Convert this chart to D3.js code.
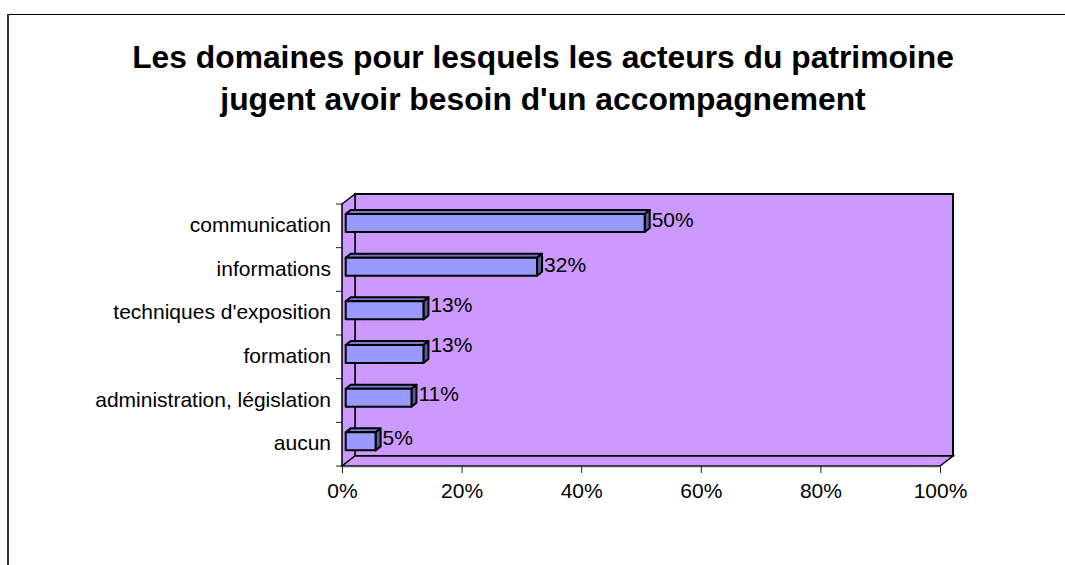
<!DOCTYPE html>
<html>
<head>
<meta charset="utf-8">
<script src="https://cdn.jsdelivr.net/npm/d3@7"></script>
<style>
  html, body { margin: 0; padding: 0; background: #fff; overflow: hidden; }
  text { font-family: "Liberation Sans", Arial, sans-serif; fill: #000; }
</style>
</head>
<body>
<div id="chart"></div>
<script>
// Chart data
const categories = ["communication", "informations", "techniques d'exposition", "formation", "administration, législation", "aucun"];
const values = [50, 32, 13, 13, 11, 5];
const xTicks = [0, 20, 40, 60, 80, 100];
const titleLines = ["Les domaines pour lesquels les acteurs du patrimoine", "jugent avoir besoin d'un accompagnement"];

// the labels do not sit at the same height on every bar in the original
const labelNudge = [-3, -2, -6, -9, -4, -4];

const width = 1065, height = 565;

const svg = d3.select("#chart")
  .append("svg")
  .attr("width", width)
  .attr("height", height)
  .style("display", "block");

// Frame of the chart area, cut by the picture on the right and bottom
svg.append("line")
  .attr("x1", 7).attr("x2", 1065)
  .attr("y1", 14.5).attr("y2", 14.5)
  .attr("stroke", "#000");
svg.append("line")
  .attr("x1", 8).attr("x2", 8)
  .attr("y1", 14).attr("y2", 565)
  .attr("stroke", "#333")
  .attr("stroke-width", 2);

// Title
svg.append("g")
  .selectAll("text")
  .data(titleLines)
  .join("text")
  .attr("x", 543)
  .attr("y", (d, i) => 68 + i * 42)
  .attr("text-anchor", "middle")
  .style("font-size", "31.8px")
  .style("font-weight", "bold")
  .text(d => d);

// Scales
const x = d3.scaleLinear().domain([0, 100]).range([342, 940]);
const y = d3.scaleBand().domain(categories).range([204, 466]).paddingInner(0.588).paddingOuter(0.294);

// 3D offsets
const wallDx = 13, wallDy = -10;   // front of the plot to the back wall
const barDx = 3.7, barDy = -2.8;   // bar position inside the depth
const depthDx = 5, depthDy = -4;   // depth of a bar

const x0 = x(0), x1 = x(100), yTop = y.range()[0], yBot = y.range()[1];
const wallColor = "#CC99FF";

// Back wall
svg.append("rect")
  .attr("x", x0 + wallDx)
  .attr("y", yTop + wallDy)
  .attr("width", x1 - x0)
  .attr("height", yBot - yTop)
  .attr("fill", wallColor)
  .attr("stroke", "#000")
  .attr("stroke-width", 2);

// Left side wall
svg.append("polygon")
  .attr("points", [[x0, yTop], [x0 + wallDx, yTop + wallDy], [x0 + wallDx, yBot + wallDy], [x0, yBot]].join(" "))
  .attr("fill", wallColor)
  .attr("stroke", "#000")
  .attr("stroke-width", 1.5);

// Floor
svg.append("polygon")
  .attr("points", [[x0, yBot], [x0 + wallDx, yBot + wallDy], [x1 + wallDx, yBot + wallDy], [x1, yBot]].join(" "))
  .attr("fill", wallColor)
  .attr("stroke", "#000")
  .attr("stroke-width", 1.5);

// Axes
const xAxis = svg.append("g")
  .attr("transform", `translate(0,${yBot})`)
  .call(d3.axisBottom(x).tickValues(xTicks).tickFormat(d => d + "%").tickSize(7).tickPadding(10));
xAxis.select(".domain").attr("stroke", "#555").attr("stroke-width", 1.5).attr("d", `M${x0},0.5H${x1}`);
xAxis.selectAll(".tick line").attr("stroke", "#222");
xAxis.selectAll(".tick text").style("font-size", "21px");

const yAxis = svg.append("g")
  .attr("transform", `translate(${x0},0)`)
  .call(d3.axisLeft(y).tickSize(0).tickPadding(11));
yAxis.select(".domain").remove();
yAxis.selectAll(".tick text").style("font-size", "21px").attr("dy", "0.3em");

// Tick marks between the categories
svg.append("g")
  .selectAll("line")
  .data(d3.range(categories.length + 1))
  .join("line")
  .attr("x1", x0 - 6)
  .attr("x2", x0)
  .attr("y1", i => yTop + i * y.step())
  .attr("y2", i => yTop + i * y.step())
  .attr("stroke", "#222");

// Bars
const rows = categories.map((c, i) => ({ category: c, value: values[i], nudge: labelNudge[i] }));
const bars = svg.append("g")
  .selectAll("g")
  .data(rows)
  .join("g")
  .attr("transform", d => `translate(${x0 + barDx},${y(d.category) + barDy})`)
  .attr("stroke", "#000")
  .attr("stroke-width", 2)
  .attr("stroke-linejoin", "round");

// top face
bars.append("polygon")
  .attr("points", d => {
    const w = x(d.value) - x0;
    return [[0, 0], [depthDx, depthDy], [w + depthDx, depthDy], [w, 0]].join(" ");
  })
  .attr("fill", "#7A7ACC");

// side face
bars.append("polygon")
  .attr("points", d => {
    const w = x(d.value) - x0, h = y.bandwidth();
    return [[w, 0], [w + depthDx, depthDy], [w + depthDx, h + depthDy], [w, h]].join(" ");
  })
  .attr("fill", "#5C5C99");

// front face
bars.append("rect")
  .attr("width", d => x(d.value) - x0)
  .attr("height", y.bandwidth())
  .attr("fill", "#9999FF");

// Value labels
svg.append("g")
  .selectAll("text")
  .data(rows)
  .join("text")
  .attr("x", d => x(d.value) + barDx + depthDx + 2)
  .attr("y", d => y(d.category) + barDy + y.bandwidth() / 2 + d.nudge)
  .attr("dy", "0.35em")
  .style("font-size", "21px")
  .text(d => d.value + "%");
</script>
</body>
</html>
